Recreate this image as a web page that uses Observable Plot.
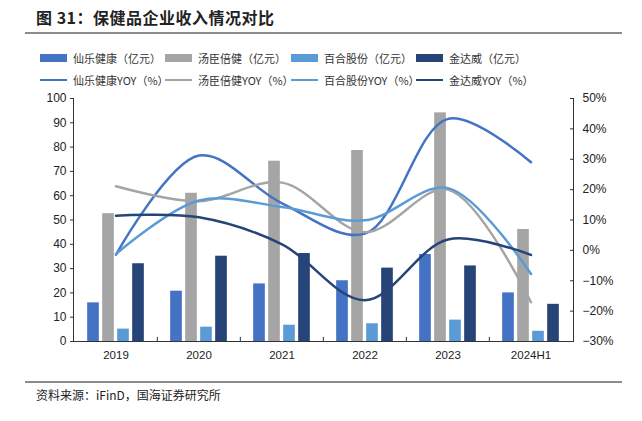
<!DOCTYPE html>
<html><head><meta charset="utf-8">
<script src="https://cdn.jsdelivr.net/npm/d3@7"></script>
<script src="https://cdn.jsdelivr.net/npm/@observablehq/plot@0.6"></script>
<style>
body{margin:0;width:642px;height:421px;position:relative;background:#fff;font-family:"Noto Sans CJK SC",sans-serif;overflow:hidden;color:#222}
#title{position:absolute;left:36px;top:5px;font-size:16px;font-weight:bold;letter-spacing:0.5px;white-space:nowrap}
.rule{position:absolute;left:25px;width:597px;height:2px;background:#8c8c8c}
.leg{position:absolute;font-size:11px;white-space:nowrap;display:flex;align-items:center;color:#333}
.sw{display:inline-block;width:27px;margin-right:6px}
#chart{position:absolute;left:0;top:88px}
#caption{position:absolute;left:36px;top:386px;font-size:12px;white-space:nowrap;color:#222}
</style></head><body>
<div id="title">图 31：保健品企业收入情况对比</div>
<div class="rule" style="top:32px"></div>
<div id="legend"></div>
<div id="chart"></div>
<div class="rule" style="top:381px"></div>
<div id="caption">资料来源：iFinD，国海证券研究所</div>
<script>
const years = ["2019","2020","2021","2022","2023","2024H1"];
const seriesNames = ["仙乐健康","汤臣倍健","百合股份","金达威"];
const colors = ["#4472C4","#A5A5A5","#5B9BD5","#264478"];
// revenue (亿元)
const revXianle   = [15.9, 20.7, 23.7, 25.0, 35.8, 20.0];
const revTangchen = [52.6, 61.0, 74.2, 78.6, 94.1, 46.1];
const revBaihe    = [5.1, 5.9, 6.7, 7.3, 8.8, 4.2];
const revJindawei = [32.0, 35.1, 36.2, 30.2, 31.1, 15.3];
// YOY (%)
const yoyXianle   = [-1.4, 31.2, 15.5, 5.5, 43.3, 29.0];
const yoyTangchen = [21.1, 16.2, 22.3, 6.0, 20.0, -17.1];
const yoyBaihe    = [-1.2, 16.4, 14.3, 9.9, 20.5, -7.8];
const yoyJindawei = [11.4, 10.9, 2.0, -16.4, 3.6, -1.5];
const leftTicks  = [0,10,20,30,40,50,60,70,80,90,100];
const rightTicks = [-30,-20,-10,0,10,20,30,40,50];

const revs = [revXianle, revTangchen, revBaihe, revJindawei];
const yoys = [yoyXianle, yoyTangchen, yoyBaihe, yoyJindawei];

// map right-axis percent onto left-axis domain
const pMin = -30, pMax = 50, lMax = 100;
const toLeft = p => (p - pMin) / (pMax - pMin) * lMax;
const fromLeft = v => v / lMax * (pMax - pMin) + pMin;

// legend
const legend = document.getElementById("legend");
const legX = [40, 165, 291, 416];
seriesNames.forEach((n, i) => {
  const a = document.createElement("div");
  a.className = "leg"; a.style.left = legX[i] + "px"; a.style.top = "50px";
  a.innerHTML = `<span class="sw" style="height:8px;background:${colors[i]}"></span>${n}（亿元）`;
  legend.appendChild(a);
  const b = document.createElement("div");
  b.className = "leg"; b.style.left = legX[i] + "px"; b.style.top = "72px";
  b.innerHTML = `<span class="sw" style="height:2.5px;background:${colors[i]}"></span>${n}YOY（%）`;
  legend.appendChild(b);
});

const W = 642, H = 280, mL = 73, mR = 69, mT = 10, mB = 27;
const bw = (W - mL - mR) / years.length;
const barW = 12;
const inset = (bw - barW) / 2;
const dxs = [-22.5, -7.5, 7.5, 22.5];

const marks = [];
revs.forEach((arr, i) => {
  const data = years.map((y, j) => ({year: y, value: arr[j]}));
  marks.push(Plot.barY(data, {x: "year", y: "value", fill: colors[i], dx: dxs[i], insetLeft: inset, insetRight: inset}));
});
yoys.forEach((arr, i) => {
  const data = years.map((y, j) => ({year: y, value: toLeft(arr[j])}));
  marks.push(Plot.lineY(data, {x: "year", y: "value", stroke: colors[i], strokeWidth: 2.5, curve: "catmull-rom"}));
});
marks.push(Plot.ruleX(years.slice(1), {x: d => d, y1: 0, y2: 1.7, stroke: "#333", dx: -bw / 2}));
marks.push(Plot.frame({anchor: "left", stroke: "#333"}));
marks.push(Plot.frame({anchor: "right", stroke: "#333"}));
marks.push(Plot.frame({anchor: "bottom", stroke: "#333"}));
marks.push(Plot.axisY(leftTicks, {anchor: "left", tickSize: 3, tickPadding: 4, fontSize: 12, label: null, stroke: "#333"}));
marks.push(Plot.axisY(rightTicks.map(toLeft), {anchor: "right", tickSize: -4, tickPadding: 13, fontSize: 12, label: null, stroke: "#333",
  tickFormat: v => { const p = Math.round(fromLeft(v)); return (p < 0 ? "\u2212" + (-p) : p) + "%"; }}));
marks.push(Plot.axisX({tickSize: 0, tickPadding: 9, fontSize: 11.5, label: null}));

const chart = Plot.plot({
  width: W, height: H,
  marginLeft: mL, marginRight: mR, marginTop: mT, marginBottom: mB,
  style: {fontFamily: "'Liberation Sans', Arial, sans-serif", color: "#222", background: "transparent"},
  x: {type: "band", domain: years, paddingInner: 0, paddingOuter: 0},
  y: {domain: [0, 100]},
  marks
});
document.getElementById("chart").appendChild(chart);
</script>
</body></html>
